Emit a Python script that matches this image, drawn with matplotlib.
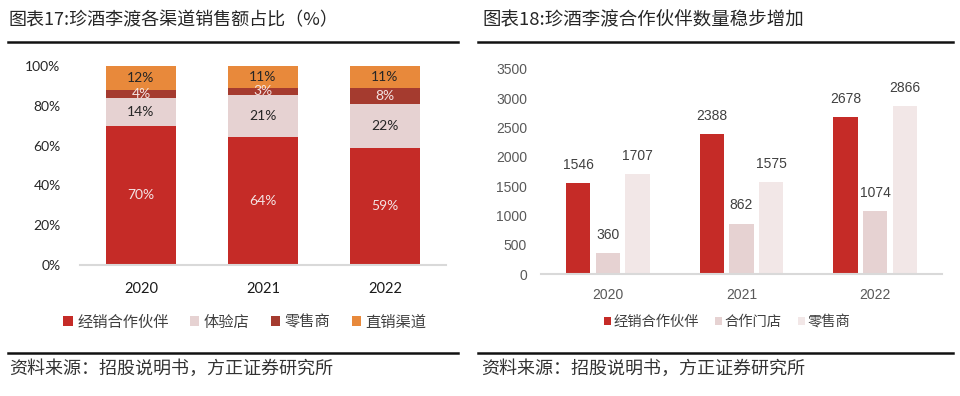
import numpy as np
import matplotlib
matplotlib.use("Agg")
import matplotlib.pyplot as plt
from matplotlib.lines import Line2D

plt.rcParams['font.family'] = ['Noto Sans CJK SC', 'DejaVu Sans']

# ------------------- DATA -------------------
years = ["2020", "2021", "2022"]

# chart 17: channel share (%)
share_names = ["经销合作伙伴", "体验店", "零售商", "直销渠道"]
share_dealer = [70, 64.3, 59]
share_store = [14, 21.3, 22]
share_retail = [4, 3.4, 8]
share_direct = [12, 11.0, 11]

# chart 18: partner counts
count_names = ["经销合作伙伴", "合作门店", "零售商"]
count_dealer = [1546, 2388, 2678]
count_store = [360, 862, 1074]
count_retail = [1707, 1575, 2866]

# ------------------- STYLE -------------------
RED = "#C52B27"
PINK = "#E6D2D2"
DARK = "#A53B2F"
ORANGE = "#E8893B"
LIGHT = "#F2E7E7"
BASE = "#D9D9D9"

fig = plt.figure(figsize=(9.6, 3.96), dpi=100)

# ------------------- LEFT CHART -------------------
ax1 = fig.add_axes([80 / 960, 1 - 265 / 396, 366 / 960, 199 / 396])
x = np.arange(len(years))
w = 0.57
series = [
    (share_dealer, RED, "#F4E4E4"),
    (share_store, PINK, "#262626"),
    (share_retail, DARK, "#F4E4E4"),
    (share_direct, ORANGE, "#262626"),
]
bottom = np.zeros(len(years))
handles = []
for (vals, col, tcol), name in zip(series, share_names):
    vals = np.array(vals, dtype=float)
    b = ax1.bar(x, vals, w, bottom=bottom, color=col, label=name, zorder=2)
    handles.append(b)
    for xi, v, bt in zip(x, vals, bottom):
        ax1.text(xi, bt + v / 2, f"{round(v)}%", ha="center", va="center",
                 fontsize=10, color=tcol, family=["Lato", "DejaVu Sans"])
    bottom += vals

ax1.set_xlim(-0.5, 2.5)
ax1.set_ylim(0, 100)
ax1.set_yticks(range(0, 101, 20))
ax1.set_yticklabels([f"{t}%" for t in range(0, 101, 20)],
                    family=["Lato", "DejaVu Sans"], fontsize=10, color="#262626")
ax1.set_xticks(x)
ax1.set_xticklabels(years, family=["Lato", "DejaVu Sans"], fontsize=10.5, color="#1a1a1a")
ax1.tick_params(axis="y", length=0, pad=14)
ax1.tick_params(axis="x", length=0, pad=12)
for s in ["top", "right", "left"]:
    ax1.spines[s].set_visible(False)
ax1.spines["bottom"].set_color(BASE)
ax1.spines["bottom"].set_linewidth(1.5)

fig.legend(handles=handles, labels=share_names, loc="center",
           bbox_to_anchor=(245 / 960, 1 - 322 / 396), ncol=4, frameon=False,
           fontsize=11, handlelength=0.6, handleheight=0.6, handletextpad=0.3,
           columnspacing=1.4, labelcolor="#404040")

# ------------------- RIGHT CHART -------------------
ax2 = fig.add_axes([541 / 960, 1 - 274 / 396, 401 / 960, 205 / 396])
bw = 0.183
off = 0.222
groups = [
    (count_dealer, RED, -off),
    (count_store, PINK, 0),
    (count_retail, LIGHT, off),
]
handles2 = []
for (vals, col, dx), name in zip(groups, count_names):
    b = ax2.bar(x + dx, vals, bw, color=col, label=name, zorder=2)
    handles2.append(b)
    for xi, v in zip(x + dx, vals):
        ax2.annotate(f"{v}", (xi, v), xytext=(0, 8), textcoords="offset points",
                     ha="center", va="bottom", fontsize=10, color="#404040",
                     family=["Liberation Sans", "DejaVu Sans"])

ax2.set_xlim(-0.5, 2.5)
ax2.set_ylim(0, 3500)
ax2.set_yticks(range(0, 3501, 500))
ax2.set_yticklabels([str(t) for t in range(0, 3501, 500)],
                    family=["Liberation Sans", "DejaVu Sans"], fontsize=10, color="#595959")
ax2.set_xticks(x)
ax2.set_xticklabels(years, family=["Liberation Sans", "DejaVu Sans"], fontsize=10, color="#595959")
ax2.tick_params(axis="y", length=0, pad=10)
ax2.tick_params(axis="x", length=0, pad=10)
for s in ["top", "right", "left"]:
    ax2.spines[s].set_visible(False)
ax2.spines["bottom"].set_color(BASE)
ax2.spines["bottom"].set_linewidth(1.5)

fig.legend(handles=handles2, labels=count_names, loc="center",
           bbox_to_anchor=(727 / 960, 1 - 322 / 396), ncol=3, frameon=False,
           fontsize=10.3, handlelength=0.5, handleheight=0.5, handletextpad=0.2,
           columnspacing=1.1, labelcolor="#404040")

# ------------------- TITLES / RULES / SOURCE -------------------
fig.text(9 / 960, 1 - 20 / 396, "图表17:珍酒李渡各渠道销售额占比（%）", fontsize=13,
         fontweight="medium", color="#262626", ha="left", va="center")
fig.text(482 / 960, 1 - 20 / 396, "图表18:珍酒李渡合作伙伴数量稳步增加", fontsize=13.3,
         fontweight="medium", color="#262626", ha="left", va="center")

for x0, x1 in [(8, 458), (478, 953)]:
    for yy in [41.5, 352.5]:
        fig.add_artist(Line2D([x0 / 960, x1 / 960], [1 - yy / 396, 1 - yy / 396],
                              color="#111111", linewidth=1.8))

src = "资料来源：招股说明书，方正证券研究所"
fig.text(9 / 960, 1 - 369 / 396, src, fontsize=13, style="italic",
         color="#333333", ha="left", va="center")
fig.text(481 / 960, 1 - 369 / 396, src, fontsize=13, style="italic",
         color="#333333", ha="left", va="center")

fig.savefig("out.png", dpi=100, facecolor="white")
